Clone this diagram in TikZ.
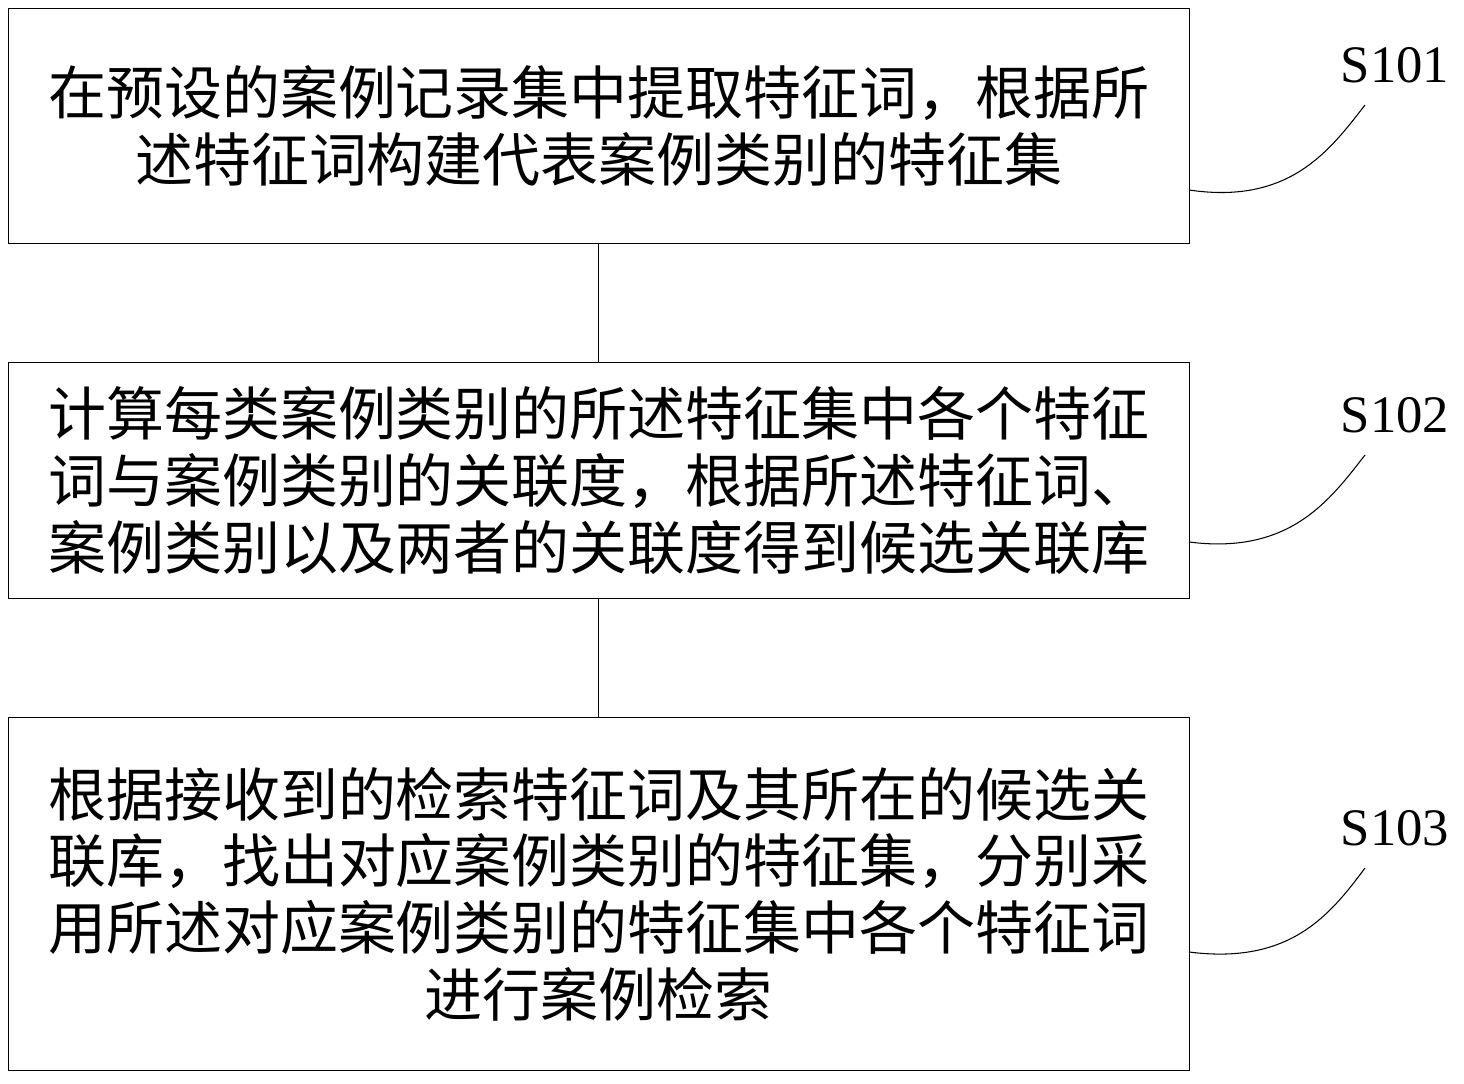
\documentclass[tikz,border=0pt]{standalone}
\usepackage{fontspec}
\setmainfont{Liberation Serif}
\newfontfamily\cjk{Noto Sans CJK SC}
\usetikzlibrary{positioning}

\begin{document}
\begin{tikzpicture}[
    x=0.02cm, y=-0.02cm,
    stepbox/.style={
        rectangle, draw, line width=0.6pt,
        minimum width=23.62cm, align=center,
        font=\cjk\fontsize{33}{38}\selectfont
    },
    steplabel/.style={font=\fontsize{30}{36}\selectfont, anchor=center},
    link/.style={line width=0.6pt}
]
\useasboundingbox (0,0) rectangle (1464,1084);

% Steps
\node[stepbox, minimum height=4.7cm, anchor=north west] (s1) at (8,8)
    {在预设的案例记录集中提取特征词，根据所\\述特征词构建代表案例类别的特征集};
\node[stepbox, minimum height=4.72cm, anchor=north west] (s2) at (8,362)
    {计算每类案例类别的所述特征集中各个特征\\词与案例类别的关联度，根据所述特征词、\\案例类别以及两者的关联度得到候选关联库};
\node[stepbox, minimum height=7.06cm, anchor=north west] (s3) at (8,717)
    {根据接收到的检索特征词及其所在的候选关\\联库，找出对应案例类别的特征集，分别采\\用所述对应案例类别的特征集中各个特征词\\进行案例检索};

% Connectors
\draw[link] (s1.south) -- (s2.north);
\draw[link] (s2.south) -- (s3.north);

% Labels
\node[steplabel] (l1) at (1395,65) {S101};
\node[steplabel] (l2) at (1395,415) {S102};
\node[steplabel] (l3) at (1395,828) {S103};

\coordinate (c1) at (1189,190);
\coordinate (c2) at (1189,542);
\coordinate (c3) at (1189,952);
\draw[link] (c1) .. controls (1290,205) and (1330,150) .. (1365,105);
\draw[link] (c2) .. controls (1290,555) and (1330,500) .. (1365,455);
\draw[link] (c3) .. controls (1290,965) and (1330,915) .. (1365,868);

\end{tikzpicture}
\end{document}
